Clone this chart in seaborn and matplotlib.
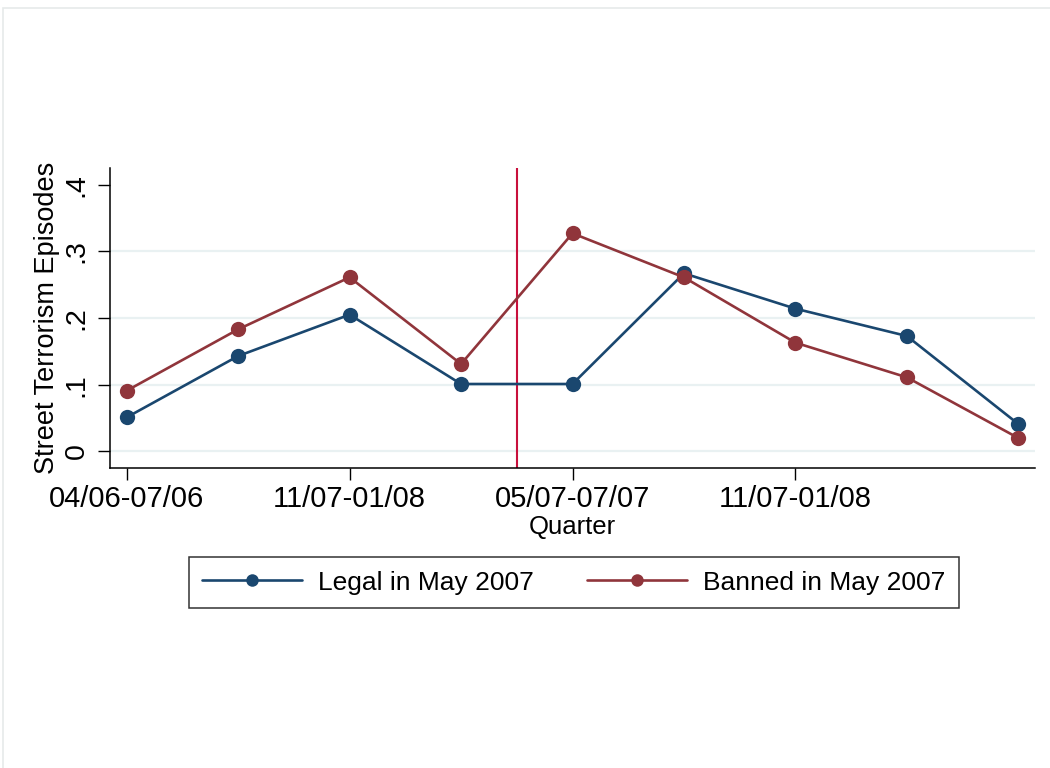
import matplotlib
matplotlib.use("Agg")
import matplotlib.pyplot as plt
from matplotlib.lines import Line2D
from matplotlib.patches import Rectangle
import numpy as np
import pandas as pd
import seaborn as sns

# Quarterly rate of street terrorism episodes by group
quarter_index = [0, 1, 2, 3, 4, 5, 6, 7, 8]
legal = [0.051, 0.143, 0.205, 0.101, 0.101, 0.267, 0.214, 0.173, 0.041]
banned = [0.091, 0.183, 0.261, 0.131, 0.327, 0.261, 0.163, 0.111, 0.020]
group_names = ["Legal in May 2007", "Banned in May 2007"]

tick_positions = [0, 2, 4, 6]
tick_labels = ["04/06-07/06", "11/07-01/08", "05/07-07/07", "11/07-01/08"]
y_ticks = [0, 0.1, 0.2, 0.3, 0.4]
y_tick_labels = ["0", ".1", ".2", ".3", ".4"]
ban_date = 3.5

navy = "#1a476f"
maroon = "#90353b"
cranberry = "#c8103c"
grid_col = "#e9f1f2"

sns.set_theme(style="white")
plt.rcParams["font.family"] = ["Liberation Sans", "DejaVu Sans"]
plt.rcParams.update({"text.color": "black", "axes.labelcolor": "black",
                     "xtick.color": "black", "ytick.color": "black"})

df = pd.DataFrame({
    "quarter": quarter_index * 2,
    "rate": legal + banned,
    "group": [group_names[0]] * len(legal) + [group_names[1]] * len(banned),
})

fig = plt.figure(figsize=(10.5, 7.68), dpi=100)
fig.patch.set_facecolor("white")
ax = fig.add_axes([110 / 1050, 1 - 468 / 768, (1035 - 110) / 1050, (468 - 168) / 768])

# light grid lines inside the plot region
for g in [0, 0.1, 0.2, 0.3]:
    ax.axhline(g, color=grid_col, lw=1.6, zorder=0)

sns.lineplot(data=df, x="quarter", y="rate", hue="group", hue_order=group_names,
             palette=[navy, maroon], marker="o", markersize=11, markeredgewidth=0,
             linewidth=1.9, legend=False, ax=ax, zorder=3)

ax.axvline(ban_date, color=cranberry, lw=1.5, zorder=2)

ax.set_xlim(-0.15, 8.15)
ax.set_ylim(-0.025, 0.425)
ax.set_xticks(tick_positions)
ax.set_xticklabels(tick_labels, fontsize=21)
ax.set_yticks(y_ticks)
ax.set_yticklabels(y_tick_labels, fontsize=20.5, rotation=90, va="center")
ax.tick_params(axis="both", direction="out", length=8.5, width=1.0, color="black",
               bottom=True, left=True)
ax.tick_params(axis="x", pad=4)
ax.tick_params(axis="y", pad=6)

ax.set_xlabel("Quarter", fontsize=18.5, labelpad=1)
ax.set_ylabel("Street Terrorism Episodes", fontsize=19.5, labelpad=3)

for side in ["top", "right"]:
    ax.spines[side].set_visible(False)
for side in ["left", "bottom"]:
    ax.spines[side].set_color("black")
    ax.spines[side].set_linewidth(1.1)

handles = [Line2D([0], [0], color=navy, lw=1.9, marker="o", markersize=9, markeredgewidth=0),
           Line2D([0], [0], color=maroon, lw=1.9, marker="o", markersize=9, markeredgewidth=0)]
leg = fig.legend(handles, group_names, loc="center", bbox_to_anchor=(0.5465, 0.2415),
                 ncol=2, fontsize=19, frameon=True, fancybox=False, edgecolor="black",
                 handlelength=3.8, handletextpad=0.6, columnspacing=2.0,
                 borderpad=0.5, borderaxespad=0)
leg.get_frame().set_linewidth(1.1)

# faint outer frame of the graph region
fig.patches.append(Rectangle((3 / 1050, -0.1), 1.2, 1 - 8 / 768 + 0.1,
                             transform=fig.transFigure, fill=False,
                             edgecolor="#e6eaea", lw=1.2))

fig.savefig("out.png", dpi=100, facecolor="white")
